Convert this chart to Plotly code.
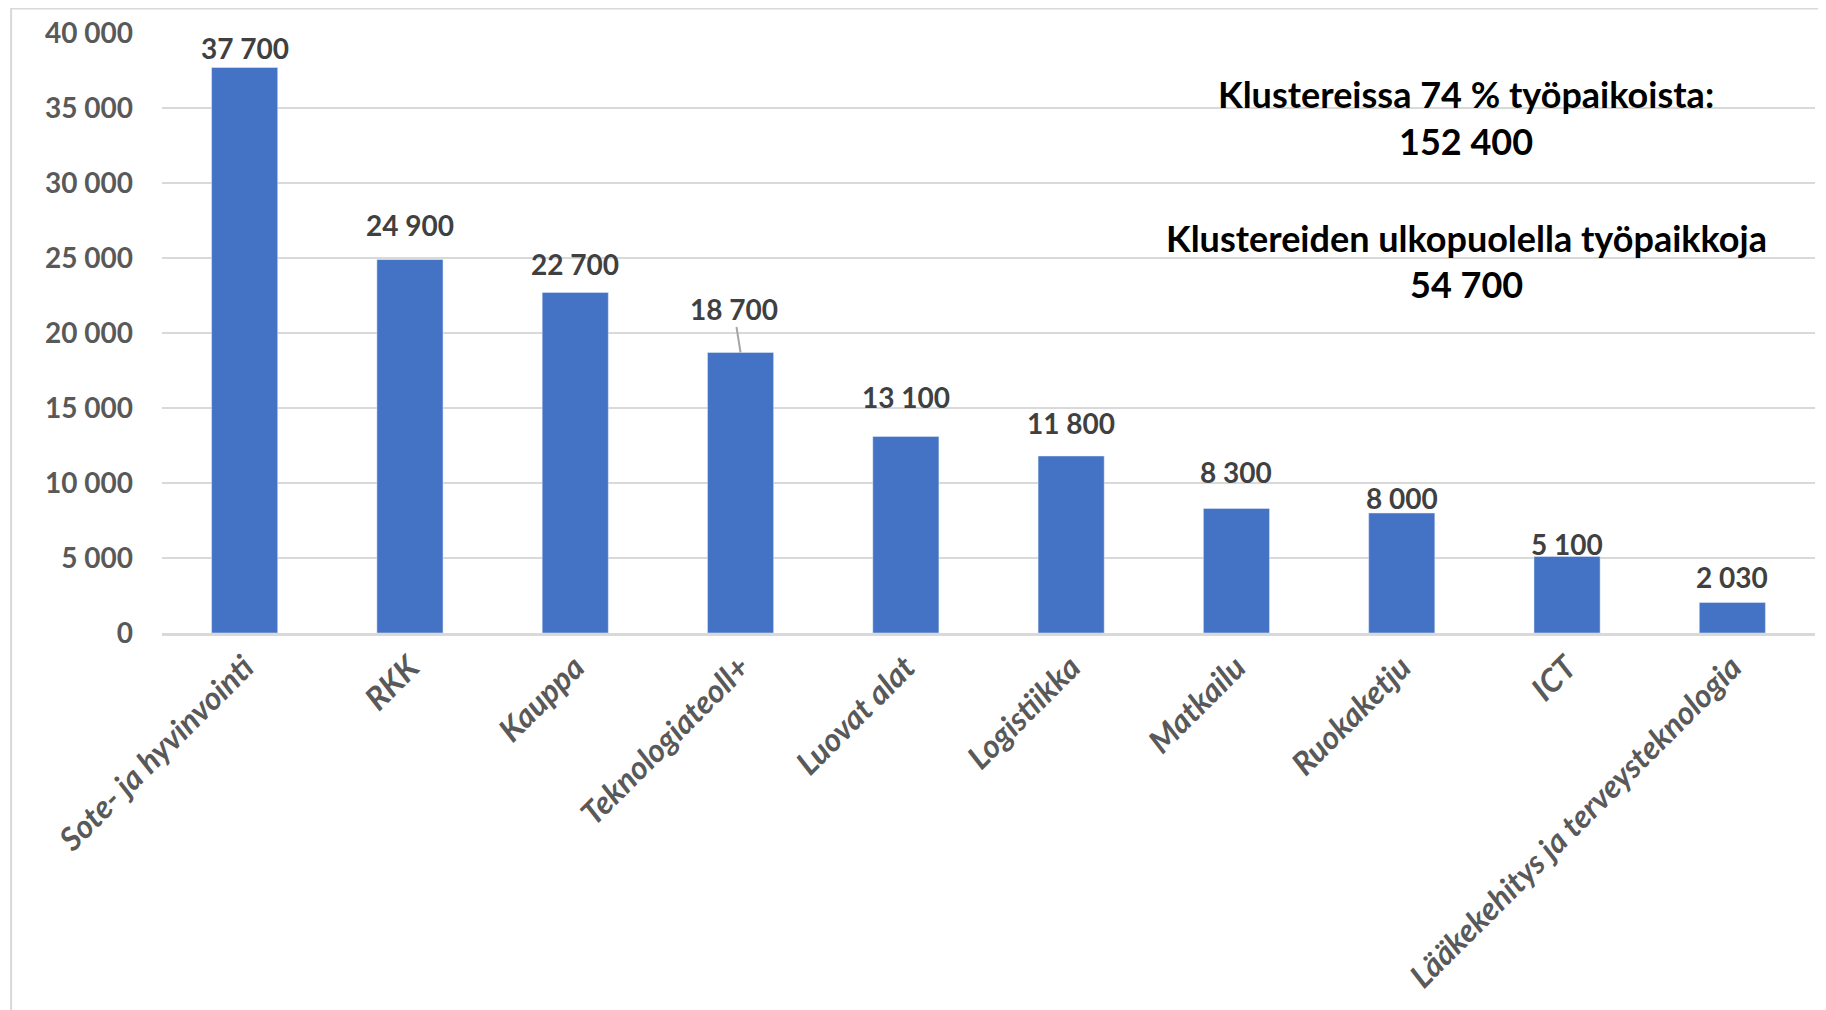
import plotly.graph_objects as go

categories = ["Sote- ja hyvinvointi", "RKK", "Kauppa", "Teknologiateoll+", "Luovat alat",
              "Logistiikka", "Matkailu", "Ruokaketju", "ICT", "Lääkekehitys ja terveysteknologia"]
jobs = [37700, 24900, 22700, 18700, 13100, 11800, 8300, 8000, 5100, 2030]
tick_vals = [0, 5000, 10000, 15000, 20000, 25000, 30000, 35000, 40000]
tick_text = ["0", "5 000", "10 000", "15 000", "20 000", "25 000", "30 000", "35 000", "40 000"]

# label nudges (px) - the original labels were dragged around by hand
label_shift = [1, 16, 10, 0, 21, 14, 18, -4, -6, 7]

def fmt(v):
    return f"{v:,}".replace(",", " ")

FONT = "Lato, 'Open Sans', sans-serif"

fig = go.Figure(go.Bar(x=categories, y=jobs, marker_color="#4472C4", width=0.4))

# data labels; the Teknologiateoll+ one sits higher with a leader line, as in the original
for c, v, s in zip(categories, jobs, label_shift):
    if c == "Teknologiateoll+":
        fig.add_annotation(x=c, y=v, text=fmt(v), showarrow=True, arrowhead=0,
                           arrowcolor="#a6a6a6", arrowwidth=2, ax=-7, ay=-44, standoff=0,
                           font=dict(family=FONT, size=28, color="#404040", weight="bold"))
    else:
        fig.add_annotation(x=c, y=v, text=fmt(v), showarrow=False, yanchor="bottom", yshift=s,
                           font=dict(family=FONT, size=28, color="#404040", weight="bold"))

txt = dict(family=FONT, size=36, color="black", weight="bold")
box_x = 0.789
for y, t in [(0.898, "Klustereissa 74 % työpaikoista:"), (0.82, "152 400"),
             (0.658, "Klustereiden ulkopuolella työpaikkoja"), (0.582, "54 700")]:
    fig.add_annotation(xref="paper", yref="paper", x=box_x, y=y, xanchor="center", yanchor="middle",
                       text=t, showarrow=False, font=txt)

# chart border
fig.add_shape(type="rect", xref="paper", yref="paper", x0=-0.0913, x1=1.05, y0=-1.0, y1=1.0408,
              line=dict(color="#d9d9d9", width=2), layer="below")

fig.update_layout(
    width=1818, height=1002,
    margin=dict(l=154, r=11, t=25, b=377),
    plot_bgcolor="white", paper_bgcolor="white",
    showlegend=False,
    bargap=0.6,
)
fig.update_yaxes(range=[0, 40000], tickvals=tick_vals, ticktext=tick_text, automargin=False,
                 showgrid=True, gridcolor="#d9d9d9", gridwidth=2, zeroline=False,
                 ticks="", ticklen=0, tickfont=dict(family=FONT, size=28, color="#595959", weight="bold"),
                 showline=False, ticklabelstandoff=28)
fig.update_xaxes(tickangle=-45, showline=True, linecolor="#d9d9d9", linewidth=3, automargin=False,
                 tickfont=dict(family=FONT, size=32, color="#595959", weight="bold", style="italic"),
                 ticks="")

fig.write_html("out.html")
